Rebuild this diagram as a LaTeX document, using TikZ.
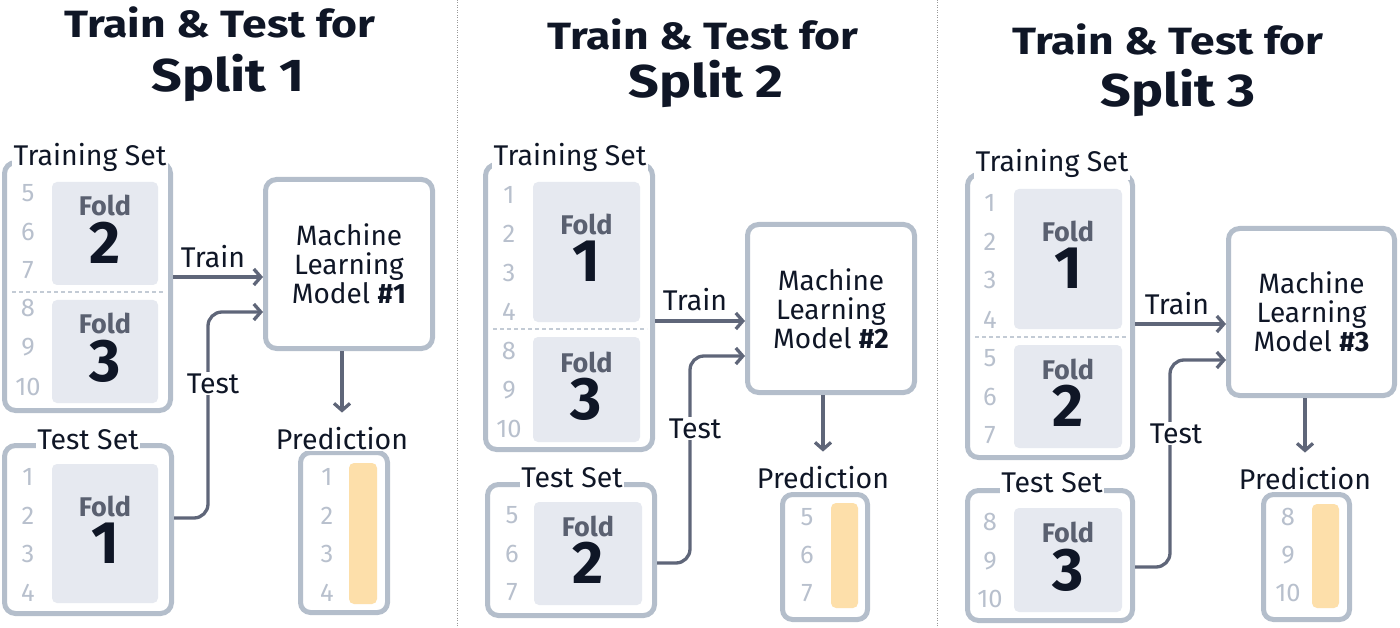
\documentclass[tikz,border=0pt]{standalone}
\usepackage{fontspec}
\setmainfont{Fira Sans}
\newfontfamily\titlefont[FakeStretch=1.17]{Fira Sans}
\usetikzlibrary{arrows.meta}

\definecolor{edge}{HTML}{B4BECB}
\definecolor{foldbg}{HTML}{E6E9F0}
\definecolor{ink}{HTML}{0F1626}
\definecolor{foldgray}{HTML}{5A6070}
\definecolor{numgray}{HTML}{B8C0CD}
\definecolor{arrowc}{HTML}{5F6679}
\definecolor{predbar}{HTML}{FDDFAA}

\begin{document}
\begin{tikzpicture}[x=1pt, y=-1pt]
\tikzset{ inner sep=0pt,
  box/.style={draw=edge, line width=5pt, rounded corners=11pt, fill=white},
  fold/.style={fill=foldbg, rounded corners=5pt},
  bar/.style={fill=predbar, rounded corners=5pt},
  ttlA/.style={anchor=base, text=ink, font=\titlefont\bfseries\fontsize{38}{40}\selectfont},
  ttlB/.style={anchor=base, text=ink, font=\titlefont\bfseries\fontsize{46}{48}\selectfont},
  lbl/.style={anchor=base, fill=white, inner sep=1.5pt, text=ink, font=\fontsize{28.5}{30}\selectfont},
  model/.style={box, align=center, text=ink, font=\fontsize{28}{29}\selectfont},
  num/.style={text=numgray, font=\fontsize{25.5}{28}\selectfont},
  foldlbl/.style={anchor=base, text=foldgray, font=\bfseries\fontsize{27}{29}\selectfont},
  foldnum/.style={anchor=base, text=ink, font=\bfseries\fontsize{60}{62}\selectfont},
  arr/.style={-{Straight Barb[length=7pt,width=16pt]}, draw=arrowc, line width=3.3pt, line join=round},
  cut/.style={draw=edge!80, line width=1.2pt, dash pattern=on 4pt off 3pt},
  sep/.style={draw=gray!80, line width=0.8pt, dash pattern=on 1pt off 1.5pt},
}

\useasboundingbox (0,0) rectangle (1400,628);

%\draw [lightgray, dashed](0,0) grid (1400,628);

\draw [sep] (457,0) -- (457,628);
\draw [sep] (937,0) -- (937,628);

% split 1
\node [ttlA] (h1a) at (220,38) {Train \& Test for};
\node [ttlB] (h1b) at (228,92) {Split 1};

\node [box, minimum width=166pt, minimum height=248pt] (tr1) at (87.5,286.5) {};
\node [fold, minimum width=106pt, minimum height=103pt] (tr1a) at (105,233.5) {};
\node [fold, minimum width=106pt, minimum height=103pt] (tr1b) at (105,351.5) {};
\draw [cut] (12,292) -- (165,292);
\node [foldlbl] at ([yshift=17.5pt]tr1a.center) {Fold};
\node [foldnum] at ([yshift=-30pt]tr1a.center) {2};
\node [foldlbl] at ([yshift=17.5pt]tr1b.center) {Fold};
\node [foldnum] at ([yshift=-30pt]tr1b.center) {3};
\foreach \n/\y in {5/193,6/232,7/270,8/308,9/347,10/387}
  \node [num] at (28,\y) {\n};
\node [lbl] (trl1) at (90,166) {Training Set};

\node [box, minimum width=167pt, minimum height=168pt] (te1) at (88,529.5) {};
\node [fold, minimum width=106pt, minimum height=139pt] (te1a) at (105,533.5) {};
\node [foldlbl] at ([yshift=17.5pt]te1a.center) {Fold};
\node [foldnum] at ([yshift=-30pt]te1a.center) {1};
\foreach \n/\y in {1/477,2/516,3/554,4/593}
  \node [num] at (28,\y) {\n};
\node [lbl] (tel1) at (88,449) {Test Set};

\node [model, minimum width=167pt, minimum height=169pt] (ml1) at (349,264) {Machine\\Learning\\Model \textbf{\#1}};

\node [box, rounded corners=10pt, minimum width=87pt, minimum height=160pt] (pr1) at (344,532.5) {};
\node [bar, minimum width=28pt, minimum height=141pt] (pb1) at (363,533.5) {};
\foreach \n/\y in {1/477,2/516,3/554,4/593}
  \node [num] at (327,\y) {\n};
\node [lbl] (pl1) at (342,449.5) {Prediction};

\draw [arr] (tr1.east |- 0,277) -- (ml1.west |- 0,277);
\draw [arr, rounded corners=14pt] (te1.east |- 0,518) -| (208,312) -- (ml1.west |- 0,312);
\draw [arr, shorten >=13pt] (ml1.south -| pl1.north) -- (pl1.north);
\node [lbl] (tn1) at (213,268) {Train};
\node [lbl] (ts1) at (213,393) {Test};

% split 2
\node [ttlA] (h2a) at (703,50) {Train \& Test for};
\node [ttlB] (h2b) at (706,98) {Split 2};

\node [box, minimum width=167pt, minimum height=285pt] (tr2) at (569,307) {};
\node [fold, minimum width=107pt, minimum height=140pt] (tr2a) at (586.5,252) {};
\node [fold, minimum width=107pt, minimum height=105pt] (tr2b) at (586.5,389.5) {};
\draw [cut] (493,329) -- (647,329);
\node [foldlbl] at ([yshift=17.5pt]tr2a.center) {Fold};
\node [foldnum] at ([yshift=-30pt]tr2a.center) {1};
\node [foldlbl] at ([yshift=17.5pt]tr2b.center) {Fold};
\node [foldnum] at ([yshift=-30pt]tr2b.center) {3};
\foreach \n/\y in {1/195,2/234,3/273,4/312,8/351,9/390,10/429}
  \node [num] at (509,\y) {\n};
\node [lbl] (trl2) at (570,166) {Training Set};

\node [box, minimum width=167pt, minimum height=131pt] (te2) at (571,550) {};
\node [fold, minimum width=108pt, minimum height=103pt] (te2a) at (588,553.5) {};
\node [foldlbl] at ([yshift=17.5pt]te2a.center) {Fold};
\node [foldnum] at ([yshift=-30pt]te2a.center) {2};
\foreach \n/\y in {5/515,6/554,7/592}
  \node [num] at (512,\y) {\n};
\node [lbl] (tel2) at (572,487.5) {Test Set};

\node [model, minimum width=167pt, minimum height=168pt] (ml2) at (831,308.5) {Machine\\Learning\\Model \textbf{\#2}};

\node [box, rounded corners=10pt, minimum width=85pt, minimum height=125pt] (pr2) at (825,557) {};
\node [bar, minimum width=27pt, minimum height=105pt] (pb2) at (844.5,555.5) {};
\foreach \n/\y in {5/517,6/555,7/593}
  \node [num] at (807,\y) {\n};
\node [lbl] (pl2) at (823,488.5) {Prediction};

\draw [arr] (tr2.east |- 0,321) -- (ml2.west |- 0,321);
\draw [arr, rounded corners=14pt] (te2.east |- 0,563) -| (690,356) -- (ml2.west |- 0,356);
\draw [arr, shorten >=13pt] (ml2.south -| pl2.north) -- (pl2.north);
\node [lbl] (tn2) at (695,311) {Train};
\node [lbl] (ts2) at (695,438) {Test};

% split 3
\node [ttlA] (h3a) at (1168,55) {Train \& Test for};
\node [ttlB] (h3b) at (1178,107) {Split 3};

\node [box, minimum width=165pt, minimum height=283pt] (tr3) at (1050,316) {};
\node [fold, minimum width=108pt, minimum height=140pt] (tr3a) at (1068,259) {};
\node [fold, minimum width=108pt, minimum height=103pt] (tr3b) at (1068,396.5) {};
\draw [cut] (975,337) -- (1127,337);
\node [foldlbl] at ([yshift=17.5pt]tr3a.center) {Fold};
\node [foldnum] at ([yshift=-30pt]tr3a.center) {1};
\node [foldlbl] at ([yshift=17.5pt]tr3b.center) {Fold};
\node [foldnum] at ([yshift=-30pt]tr3b.center) {2};
\foreach \n/\y in {1/203,2/242,3/280,4/320,5/358,6/397,7/435}
  \node [num] at (990,\y) {\n};
\node [lbl] (trl3) at (1052,172) {Training Set};

\node [box, minimum width=165pt, minimum height=130pt] (te3) at (1050,555.5) {};
\node [fold, minimum width=108pt, minimum height=104pt] (te3a) at (1068,560) {};
\node [foldlbl] at ([yshift=17.5pt]te3a.center) {Fold};
\node [foldnum] at ([yshift=-30pt]te3a.center) {3};
\foreach \n/\y in {8/522,9/561,10/599}
  \node [num] at (990,\y) {\n};
\node [lbl] (tel3) at (1052,492.5) {Test Set};

\node [model, minimum width=166pt, minimum height=167pt] (ml3) at (1311.5,312) {Machine\\Learning\\Model \textbf{\#3}};

\node [box, rounded corners=10pt, minimum width=86pt, minimum height=125pt] (pr3) at (1306.5,557) {};
\node [bar, minimum width=27pt, minimum height=104pt] (pb3) at (1325.5,556) {};
\foreach \n/\y in {8/517,9/555,10/593}
  \node [num] at (1288,\y) {\n};
\node [lbl] (pl3) at (1305,489.5) {Prediction};

\draw [arr] (tr3.east |- 0,324) -- (ml3.west |- 0,324);
\draw [arr, rounded corners=14pt] (te3.east |- 0,567) -| (1170,360) -- (ml3.west |- 0,360);
\draw [arr, shorten >=13pt] (ml3.south -| pl3.north) -- (pl3.north);
\node [lbl] (tn3) at (1177,315) {Train};
\node [lbl] (ts3) at (1176,443) {Test};

\end{tikzpicture}
\end{document}
